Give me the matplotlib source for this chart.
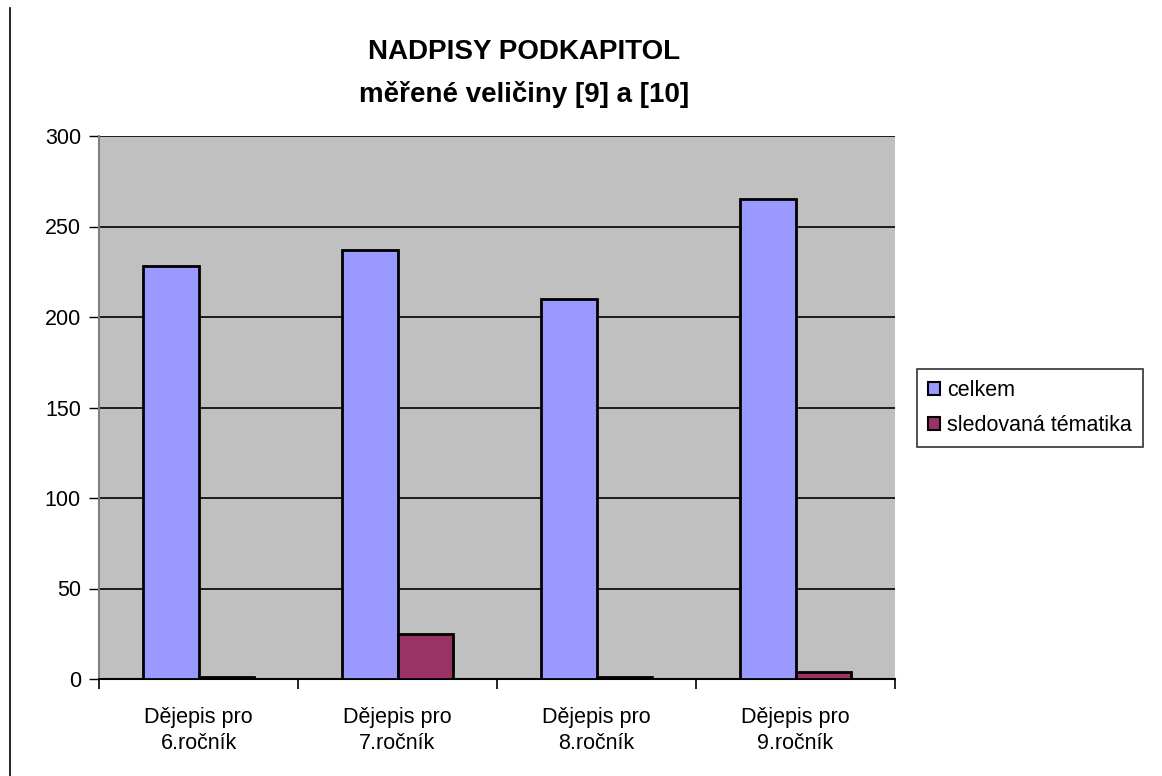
import matplotlib
matplotlib.use('agg')
import matplotlib.pyplot as plt
from matplotlib.lines import Line2D
import numpy as np

plt.rcParams['font.family'] = ['Liberation Sans', 'DejaVu Sans']

categories = ['Dějepis pro\n6.ročník', 'Dějepis pro\n7.ročník', 'Dějepis pro\n8.ročník', 'Dějepis pro\n9.ročník']
celkem = [228, 237, 210, 265]
sledovana = [1, 25, 1, 4]
series_names = ['celkem', 'sledovaná tématika']
colors = ['#9999FF', '#993366']

fig = plt.figure(figsize=(11.62, 7.76), dpi=100)
ax = fig.add_axes([99/1162, 97/776, 796/1162, 543/776])
ax.set_facecolor('#C0C0C0')

x = np.arange(len(categories))
w = 0.28
ax.bar(x - w/2, celkem, w, color=colors[0], edgecolor='black', linewidth=2, label=series_names[0], zorder=3)
ax.bar(x + w/2, sledovana, w, color=colors[1], edgecolor='black', linewidth=2, label=series_names[1], zorder=3)

ax.set_xlim(-0.5, len(categories) - 0.5)
ax.set_ylim(0, 300)
ax.set_yticks(range(0, 301, 50))
ax.yaxis.grid(True, color='black', linewidth=1.2, zorder=1)
ax.set_axisbelow(True)

# category boundaries get the tick marks, labels sit in the middle
ax.set_xticks(np.arange(len(categories) + 1) - 0.5)
ax.set_xticklabels([])
ax.set_xticks(x, minor=True)
ax.set_xticklabels(categories, minor=True, fontsize=15.5, linespacing=1.35)
ax.tick_params(axis='x', which='minor', length=0, pad=20)
ax.tick_params(axis='x', which='major', length=7, width=1.2, direction='out')
ax.tick_params(axis='y', length=7, width=1, direction='out', labelsize=15.5, pad=6)

for s in ['top', 'right']:
    ax.spines[s].set_visible(False)
ax.spines['left'].set_color('#808080')
ax.spines['left'].set_linewidth(1.5)
ax.spines['bottom'].set_color('black')
ax.spines['bottom'].set_linewidth(1.5)

fig.text(524/1162, 1 - 52/776, 'NADPISY PODKAPITOL', ha='center', va='center', fontsize=20, fontweight='bold')
fig.text(524/1162, 1 - 95/776, 'měřené veličiny [9] a [10]', ha='center', va='center', fontsize=20, fontweight='bold')

leg = ax.legend(loc='center left', bbox_to_anchor=(917/1162, 1 - 408/776), bbox_transform=fig.transFigure,
                frameon=True, fancybox=False, fontsize=15.5, handlelength=0.55, handleheight=0.55,
                handletextpad=0.35, borderpad=0.5, labelspacing=0.65, borderaxespad=0)
leg.get_frame().set_edgecolor('black')
leg.get_frame().set_linewidth(1.2)
for h in leg.legend_handles:
    h.set_linewidth(1.5)

fig.add_artist(Line2D([10/1162, 10/1162], [0, 1 - 8/776], color='black', linewidth=1.2))

fig.savefig('out.png', dpi=100)
